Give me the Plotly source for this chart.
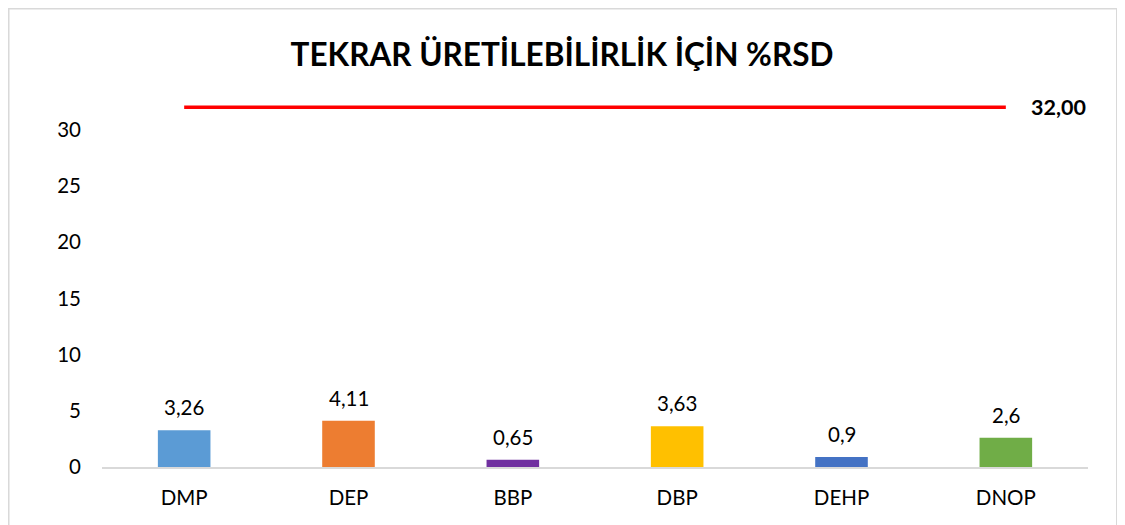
import plotly.graph_objects as go

categories = ["DMP", "DEP", "BBP", "DBP", "DEHP", "DNOP"]
rsd_values = [3.26, 4.11, 0.65, 3.63, 0.9, 2.6]
bar_colors = ["#5B9BD5", "#ED7D31", "#7030A0", "#FFC000", "#4472C4", "#70AD47"]
limit_value = 32.00
limit_label = "32,00"
y_ticks = [0, 5, 10, 15, 20, 25, 30]
title_text = "TEKRAR ÜRETİLEBİLİRLİK İÇİN %RSD"

FONT = "Lato"
FS = 20.5
labels = [str(v).replace(".", ",") for v in rsd_values]

fig = go.Figure()
fig.add_trace(go.Bar(
    x=categories, y=rsd_values, marker=dict(color=bar_colors, line=dict(width=0)),
    width=0.32, showlegend=False, hoverinfo="x+y",
))
fig.add_trace(go.Scatter(
    x=categories, y=[limit_value] * len(categories), mode="lines",
    line=dict(color="#FF0000", width=3.5), showlegend=False, cliponaxis=False,
))
for c, v, t in zip(categories, rsd_values, labels):
    fig.add_annotation(x=c, y=v, text=t, showarrow=False, yanchor="bottom",
                       yshift=9, font=dict(family=FONT, size=FS, color="#000000"))
fig.add_annotation(
    x=categories[-1], y=limit_value, text="<b>" + limit_label + "</b>",
    showarrow=False, xanchor="left", xshift=23, yshift=0,
    font=dict(family=FONT, size=21.5, color="#000000"),
)

fig.update_layout(
    width=1125, height=525,
    margin=dict(l=94, r=45, t=88, b=66),
    paper_bgcolor="white", plot_bgcolor="white",
    title=dict(text="<b>" + title_text + "</b>", x=554 / 1125, xanchor="center",
               y=1 - 47 / 525, yanchor="middle", yref="container",
               font=dict(family=FONT, size=31.5, color="#000000")),
    xaxis=dict(showgrid=False, showline=True, linecolor="#D9D9D9", linewidth=1.5,
               ticks="", ticklabelstandoff=12, automargin=False,
               tickfont=dict(family=FONT, size=FS, color="#000000")),
    yaxis=dict(range=[0, 33], tickvals=y_ticks, showgrid=False, showline=False,
               zeroline=False, ticks="", ticklabelstandoff=20, automargin=False,
               tickfont=dict(family=FONT, size=FS, color="#000000")),
    bargap=0.68,
    shapes=[dict(type="rect", xref="paper", yref="paper",
                 x0=-0.0948, x1=1.0294, y0=-0.3, y1=1.2358,
                 line=dict(color="#D9D9D9", width=2), layer="below")],
)

fig.write_html("out.html")
